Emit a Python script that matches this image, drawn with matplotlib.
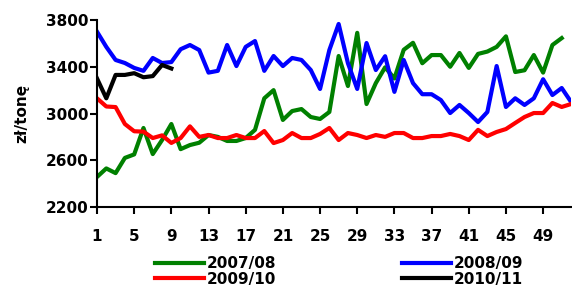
import matplotlib
matplotlib.use("Agg")
import matplotlib.pyplot as plt

weeks = list(range(1, 53))

s0708 = [2457, 2530, 2490, 2620, 2650, 2876, 2653, 2773, 2910, 2695,
         2730, 2750, 2816, 2800, 2765, 2765, 2790, 2860, 3130, 3200,
         2945, 3021, 3038, 2970, 2953, 3013, 3492, 3235, 3690, 3081,
         3260, 3395, 3300, 3545, 3605, 3430, 3500, 3500, 3400, 3518,
         3390, 3510, 3530, 3570, 3660, 3355, 3370, 3500, 3350, 3586,
         3645]
s0809 = [3700, 3570, 3458, 3432, 3390, 3365, 3475, 3432, 3440, 3550,
         3586, 3543, 3350, 3365, 3586, 3406, 3570, 3620, 3365, 3492,
         3406, 3475, 3458, 3372, 3210, 3543, 3766, 3430, 3210, 3603,
         3372, 3490, 3185, 3458, 3260, 3165, 3165, 3115, 3004, 3073,
         3004, 2927, 3013, 3406, 3056, 3130, 3073, 3130, 3293, 3158,
         3218, 3100]
s0910 = [3130, 3060, 3055, 2910, 2848, 2845, 2790, 2813, 2748, 2790,
         2890, 2800, 2816, 2790, 2790, 2816, 2790, 2790, 2850, 2747,
         2773, 2833, 2790, 2790, 2825, 2876, 2773, 2833, 2816, 2790,
         2816, 2800, 2833, 2833, 2790, 2790, 2807, 2807, 2825, 2807,
         2773, 2860, 2807, 2842, 2867, 2919, 2970, 3004, 3004, 3090,
         3056, 3081]
s1011 = [3300, 3130, 3330, 3330, 3345, 3310, 3320, 3415, 3385]

xticks = list(range(1, 50, 4))
yticks = [2200, 2600, 3000, 3400, 3800]

plt.rcParams['font.family'] = ['DejaVu Sans']
plt.rcParams['font.weight'] = 'bold'
fs = 11

fig = plt.figure(figsize=(5.72, 2.87), dpi=100)
ax = fig.add_axes([97 / 572, 80 / 287, 474 / 572, 187 / 287])

lw = 3
g, = ax.plot(weeks[:len(s0708)], s0708, color='#008000', lw=lw, label='2007/08')
b, = ax.plot(weeks, s0809, color='#0000FF', lw=lw, label='2008/09')
r, = ax.plot(weeks, s0910, color='#FF0000', lw=lw, label='2009/10')
k, = ax.plot(weeks[:len(s1011)], s1011, color='black', lw=lw, label='2010/11')

ax.set_xlim(1, 52)
ax.set_ylim(2200, 3800)
ax.set_xticks(xticks)
ax.set_yticks(yticks)
ax.tick_params(axis='x', length=5, width=1.5, pad=11, labelsize=fs)
ax.tick_params(axis='y', length=5, width=1.5, pad=1, labelsize=fs)
for lab in ax.get_xticklabels() + ax.get_yticklabels():
    lab.set_fontweight('bold')
ax.spines['top'].set_visible(False)
ax.spines['right'].set_visible(False)
ax.spines['left'].set_linewidth(1.5)
ax.spines['bottom'].set_linewidth(1.5)
ax.set_ylabel('zł/tonę', fontsize=fs, fontweight='bold', labelpad=12)

fig.legend([g, r, b, k], ['2007/08', '2009/10', '2008/09', '2010/11'],
           ncol=2, loc='upper left', bbox_to_anchor=(155 / 572, 1 - 256 / 287),
           frameon=False, prop={'weight': 'bold', 'size': fs},
           handlelength=3.2, handletextpad=0.2, columnspacing=8.2,
           labelspacing=0.05, borderpad=0, borderaxespad=0)

fig.savefig('out.png', dpi=100)
